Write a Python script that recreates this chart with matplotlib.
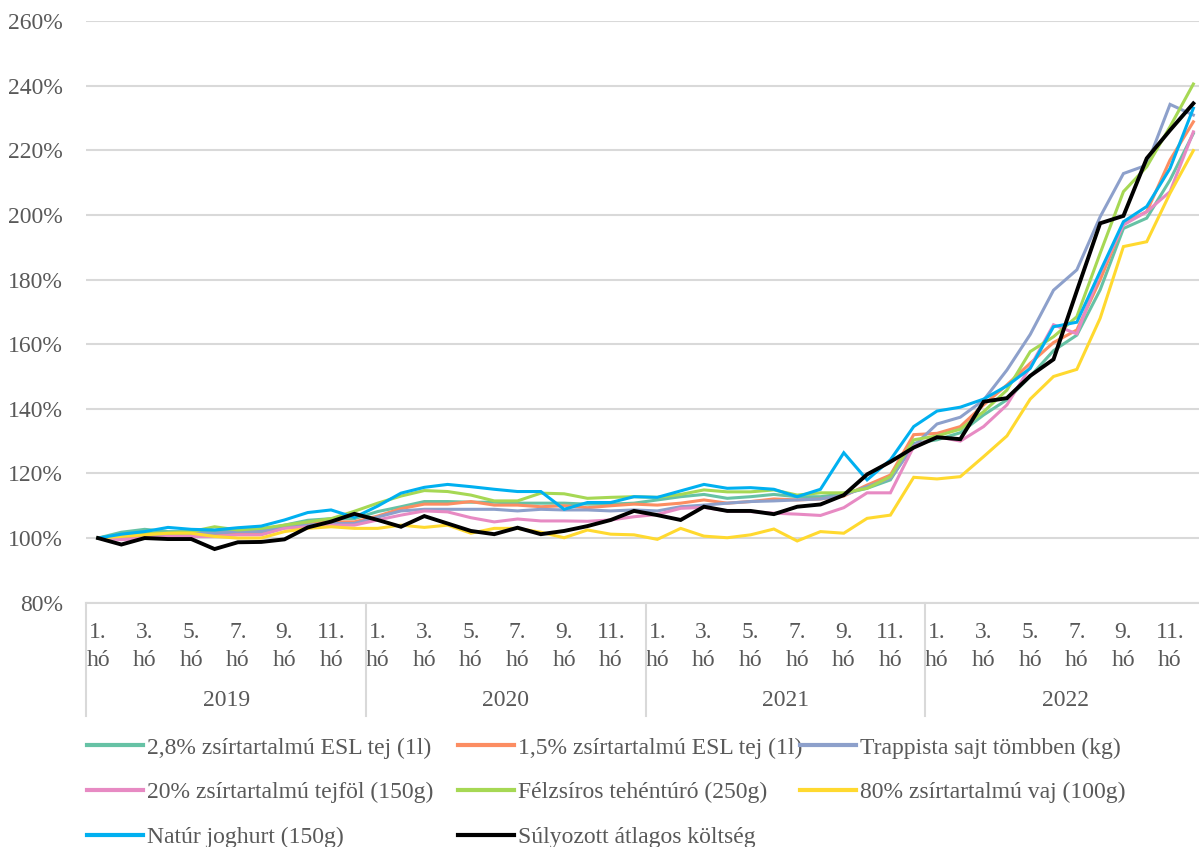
import matplotlib
matplotlib.use("Agg")
import matplotlib.pyplot as plt
from matplotlib.lines import Line2D
import matplotlib.transforms as mtransforms

# ---------------- data ----------------
years = ["2019", "2020", "2021", "2022"]
month_labels = ["1.\nhó", "3.\nhó", "5.\nhó", "7.\nhó", "9.\nhó", "11.\nhó"]

series_names = [
    "2,8% zsírtartalmú ESL tej (1l)",
    "1,5% zsírtartalmú ESL tej (1l)",
    "Trappista sajt tömbben (kg)",
    "20% zsírtartalmú tejföl (150g)",
    "Félzsíros tehéntúró (250g)",
    "80% zsírtartalmú vaj (100g)",
    "Natúr joghurt (150g)",
    "Súlyozott átlagos költség",
]

tej_28 = [100, 101.8, 102.7, 102, 102, 102, 102.3, 102.5, 104, 105.5, 106, 106,
          108.2, 109.7, 111.3, 111.3, 111.1, 111.1, 110.8, 110.8, 110.8, 110.5, 110.5, 110.8,
          111.8, 112.8, 113.5, 112.3, 112.8, 113.5, 112.8, 112.8, 113.7, 115.4, 118, 129.3,
          130.4, 132.6, 138.1, 142.8, 150, 158, 162.8, 176.8, 195.8, 199, 210.8, 225.2]
tej_15 = [100, 100, 100.5, 101, 101, 101, 101.5, 101.5, 103.5, 104.5, 105, 105,
          106.8, 109.1, 110.5, 110.5, 111.3, 110.2, 110.2, 109.7, 110, 109.4, 110, 110.5,
          110.2, 110.8, 111.8, 110.8, 111.3, 112.1, 111.8, 112.1, 113, 116.4, 119.5, 132,
          132.4, 134.5, 141.2, 147.4, 154.1, 160.5, 164.4, 179.9, 197.4, 201, 217, 228.8]
trappista = [100, 100.5, 101, 101, 101.5, 101.5, 102, 102, 103.5, 104, 104.5, 104.5,
             106.5, 108.4, 108.9, 108.9, 108.9, 108.9, 108.4, 108.9, 108.7, 108.7, 108.4, 108.7,
             108.4, 109.7, 110.2, 110.8, 111.3, 111.5, 111.8, 112.1, 113.3, 115.9, 118.5, 128.5,
             135.3, 137.4, 142.7, 152, 163, 176.7, 183, 199.4, 212.8, 215.4, 234.2, 230.9]
tejfol = [100, 99.5, 100, 100.5, 100.5, 100.5, 101, 101, 103, 103.5, 104, 104,
          105.6, 107.1, 108.4, 108.1, 106.3, 105, 105.9, 105.3, 105.3, 105.2, 105.6, 106.6,
          107.3, 109.2, 109.5, 108.4, 108.2, 107.7, 107.4, 107, 109.4, 114, 114, 128.3,
          131.4, 130, 134.5, 141.2, 153, 166, 163.2, 182, 196.9, 201, 207.2, 225.7]
turo = [100, 101, 101.5, 101.5, 102, 103.5, 102.5, 103, 104, 105, 106, 108.3,
        110.8, 113, 114.7, 114.4, 113.3, 111.5, 111.5, 113.9, 113.7, 112.3, 112.6, 112.8,
        112.6, 113.5, 114.9, 114.3, 114.3, 114.9, 113.3, 114, 114, 115.4, 119, 130.4,
        131.6, 133.7, 139.1, 145.8, 157.7, 162.3, 168.5, 188.1, 207.2, 214.9, 227.3, 240.5]
vaj = [100, 100.5, 101, 101.5, 101.5, 100.5, 100, 100, 102, 103, 103.5, 103,
       103, 104, 103.3, 104, 101.5, 103, 103, 101.8, 100.1, 102.5, 101.2, 101,
       99.6, 103, 100.6, 100.1, 101, 102.8, 99.1, 102, 101.5, 106.1, 107.1, 118.8,
       118.3, 119, 125.2, 131.6, 143, 150, 152.2, 168, 190.2, 191.7, 206.7, 219.9]
joghurt = [100, 101.2, 102, 103.3, 102.7, 102.5, 103.2, 103.7, 105.6, 107.9, 108.7, 106.4,
           109.9, 113.9, 115.7, 116.6, 115.9, 115.1, 114.4, 114.4, 108.9, 111, 111, 112.8,
           112.6, 114.6, 116.6, 115.4, 115.6, 115.1, 112.8, 115.1, 126.4, 118, 124.2, 134.5,
           139.3, 140.5, 143, 147.1, 152.5, 165.4, 166.8, 182.5, 197.9, 202.6, 214.4, 233]
atlag = [100, 98, 100, 99.7, 99.7, 96.6, 98.7, 98.8, 99.6, 103.3, 105.1, 107.5,
         105.6, 103.5, 106.8, 104.5, 102.2, 101.2, 103.2, 101.2, 102.2, 103.7, 105.6, 108.4,
         107.1, 105.6, 109.7, 108.4, 108.4, 107.4, 109.7, 110.4, 113.3, 119.7, 123.6, 128,
         131.2, 130.6, 142.2, 143.3, 150.2, 155.3, 176.5, 197.4, 199.7, 217.5, 226.2, 234.5]

y_ticks = [80, 100, 120, 140, 160, 180, 200, 220, 240, 260]

series_values = [tej_28, tej_15, trappista, tejfol, turo, vaj, joghurt, atlag]
colors = ["#66c2a5", "#fc8d62", "#8da0cb", "#e78ac3", "#a6d854", "#ffd92f", "#00b0f0", "#000000"]
widths = [2.2, 2.2, 2.2, 2.2, 2.2, 2.2, 2.2, 2.8]

# ---------------- figure ----------------
W, H = 1199, 847
fig = plt.figure(figsize=(W / 100, H / 100), dpi=100)
FONT = "Liberation Serif"
FS = 17
TXT = "#595959"

ax_left, ax_right = 86.4, 1199
ax_top, ax_bot = 21.0, 602.7
ax = fig.add_axes([ax_left / W, 1 - ax_bot / H, (ax_right - ax_left) / W, (ax_bot - ax_top) / H])

n = len(atlag)
x = list(range(n))
lines = []
for vals, name, c, lw in zip(series_values, series_names, colors, widths):
    ln, = ax.plot(x, vals, color=c, lw=lw, label=name, solid_joinstyle="miter", zorder=3)
    lines.append(ln)

cat_w = (1205 - ax_left) / 48.0
ax.set_xlim(-0.5, -0.5 + (ax_right - ax_left) / cat_w)
ax.set_ylim(80, 260)
ax.set_yticks(y_ticks)
ax.set_yticklabels([f"{v}%" for v in y_ticks], fontfamily=FONT, fontsize=FS, color=TXT)
ax.yaxis.grid(True, color="#d9d9d9", lw=1.5, zorder=0)
ax.tick_params(axis="y", length=0, pad=17)

xt = [m + 12 * k for k in range(len(years)) for m in range(0, 12, 2)]
ax.set_xticks(xt)
ax.set_xticklabels(month_labels * len(years), fontfamily=FONT, fontsize=FS, color=TXT,
                   linespacing=1.42)
ax.tick_params(axis="x", length=0, pad=14)

for s in ["top", "right", "left"]:
    ax.spines[s].set_visible(False)
ax.spines["bottom"].set_color("#d9d9d9")
ax.spines["bottom"].set_linewidth(1.5)

trans = mtransforms.blended_transform_factory(ax.transData, ax.transAxes)
sep_bottom = -(716 - ax_bot) / (ax_bot - ax_top)
for k in range(len(years) + 1):
    xs = -0.5 + 12 * k
    ax.add_line(Line2D([xs, xs], [0, sep_bottom], transform=trans, color="#d9d9d9",
                       lw=1.5, clip_on=False))
for k, yr in enumerate(years):
    ax.text(12 * k + 5.5, -(700 - ax_bot) / (ax_bot - ax_top), yr, transform=trans,
            ha="center", va="center", fontfamily=FONT, fontsize=FS, color=TXT)

# ---------------- legend (row-major, 3 columns) ----------------
col_x = [87, 458, 800]
cols = [[0, 3, 6], [1, 4, 7], [2, 5]]
for cx, idxs in zip(col_x, cols):
    leg = fig.legend([lines[i] for i in idxs], [series_names[i] for i in idxs],
                     loc="upper left", bbox_to_anchor=(cx / W, 1 - 737 / H),
                     frameon=False, borderpad=0, borderaxespad=0,
                     handlelength=2.37, handletextpad=0.17, labelspacing=0.98,
                     prop={"family": FONT, "size": FS})
    for t in leg.get_texts():
        t.set_color(TXT)
    for h in leg.legend_handles:
        h.set_linewidth(3)

fig.savefig("out.png", dpi=100)
